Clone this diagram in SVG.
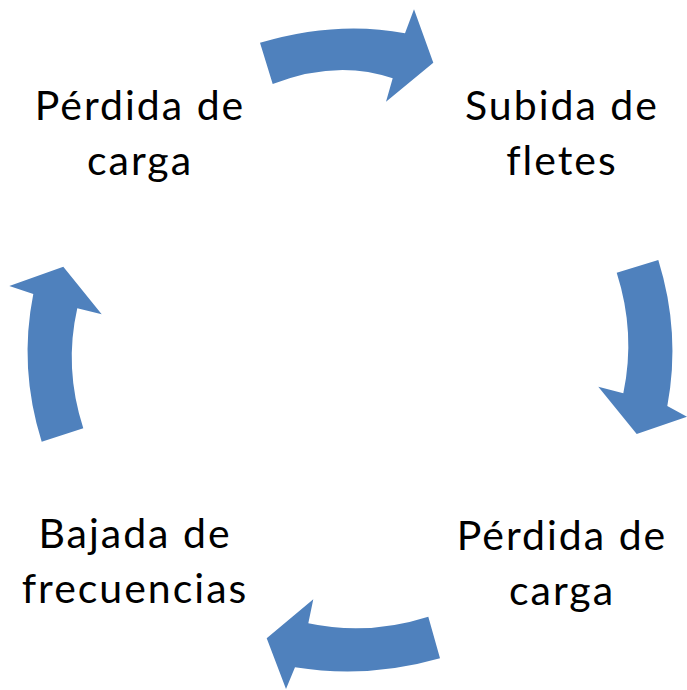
<svg xmlns="http://www.w3.org/2000/svg" width="687" height="690" viewBox="0 0 687 690">
<style>
.arrow{fill:#4F81BD;stroke:none}
.lbl{font-family:Lato,"Liberation Sans",sans-serif;font-size:41px;letter-spacing:2px;fill:#000;text-anchor:middle}
</style>
<rect width="687" height="690" fill="#fff"/>
<g id="connectors">
<path id="arrow-top" class="arrow" d="M260,42.7 Q337,20 405,33.3 L414,9.3 L433.3,62.7 L386,101.7 L392.7,78.3 Q337,59 272.7,84 Z"/>
<path id="arrow-right" class="arrow" d="M658.3,260 Q681,333 667.3,406 L687,416.7 L636.7,434 L598.3,386.7 L623.3,393.3 Q636,333 616.7,272.7 Z"/>
<path id="arrow-bottom" class="arrow" d="M440,658.3 Q368,679 295,667.3 L286,689 L266.7,638.3 L313.3,599.3 L308.3,623.3 Q368,636 428.3,616.7 Z"/>
<path id="arrow-left" class="arrow" d="M41.7,441.7 Q18.5,368 33.3,294 L9.3,286 L63.3,266.7 L101.7,314.3 L77.3,308.3 Q63.7,368 83.3,428.3 Z"/>
</g>
<g id="node-perdida-1"><text class="lbl" x="140" y="120">Pérdida de</text><text class="lbl" x="140" y="175">carga</text></g>
<g id="node-subida"><text class="lbl" x="562" y="120">Subida de</text><text class="lbl" x="562" y="175">fletes</text></g>
<g id="node-perdida-2"><text class="lbl" x="562" y="550">Pérdida de</text><text class="lbl" x="562" y="605">carga</text></g>
<g id="node-bajada"><text class="lbl" x="135" y="548">Bajada de</text><text class="lbl" x="135" y="603">frecuencias</text></g>
</svg>
